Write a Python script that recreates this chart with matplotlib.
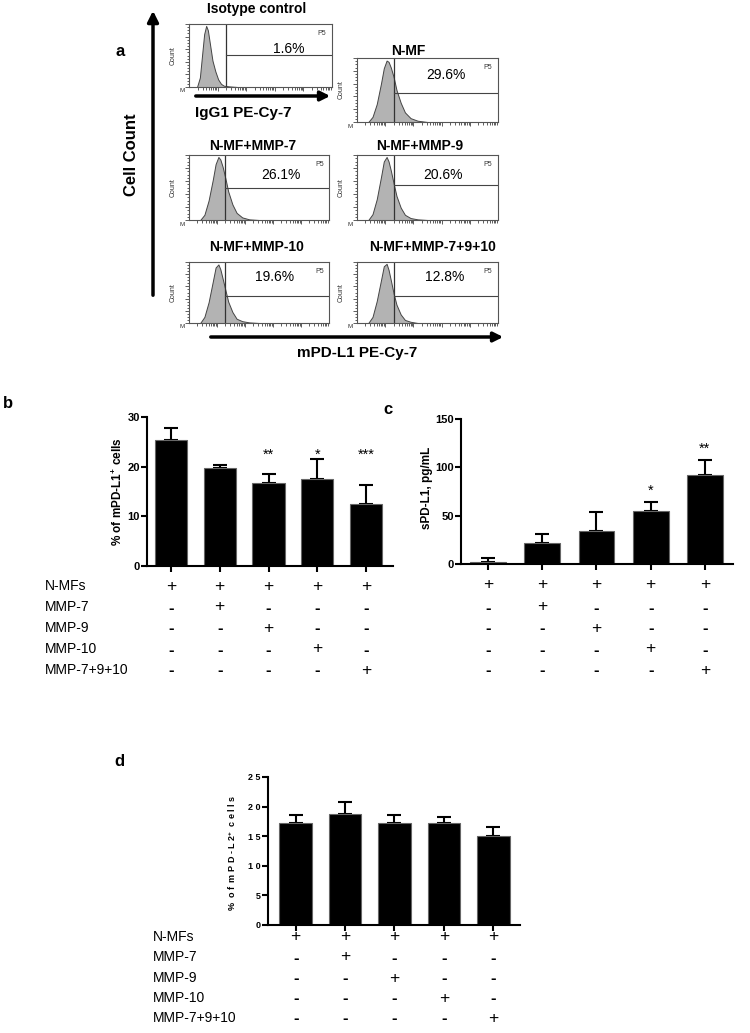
import numpy as np
import matplotlib.pyplot as plt
from matplotlib.transforms import blended_transform_factory

plt.rcParams['font.family'] = ['Liberation Sans', 'DejaVu Sans']
plt.rcParams['mathtext.fontset'] = 'custom'
plt.rcParams['mathtext.rm'] = 'Liberation Sans'
plt.rcParams['mathtext.bf'] = 'Liberation Sans:bold'
plt.rcParams['mathtext.default'] = 'regular'

W, H = 750, 1033

# --- panel a: flow cytometry histograms (log10 fluorescence vs relative count) ---
hist_titles = ["Isotype control", "N-MF", "N-MF+MMP-7", "N-MF+MMP-9",
               "N-MF+MMP-10", "N-MF+MMP-7+9+10"]
hist_pct = [1.6, 29.6, 26.1, 20.6, 19.6, 12.8]
gate_x = 1.3
gate_y = [0.51, 0.45, 0.49, 0.54, 0.44, 0.45]

iso_x = [0.28, 0.38, 0.46, 0.53, 0.60, 0.66, 0.74, 0.82, 0.92, 1.02, 1.12, 1.22, 1.40, 1.70]
iso_y = [0.00, 0.15, 0.52, 0.84, 0.97, 0.90, 0.66, 0.42, 0.25, 0.12, 0.05, 0.02, 0.01, 0.00]

mf_x = [0.40, 0.55, 0.70, 0.85, 0.95, 1.05, 1.12, 1.20, 1.30, 1.40, 1.55, 1.70, 1.90, 2.15, 2.50]
nmf_y = [0.00, 0.08, 0.28, 0.60, 0.84, 0.96, 0.94, 0.85, 0.70, 0.50, 0.30, 0.15, 0.06, 0.02, 0.00]
mmp7_y = [0.00, 0.08, 0.30, 0.62, 0.86, 0.97, 0.93, 0.82, 0.64, 0.44, 0.24, 0.11, 0.04, 0.01, 0.00]
mmp9_y = [0.00, 0.09, 0.32, 0.66, 0.90, 0.97, 0.90, 0.76, 0.56, 0.37, 0.19, 0.08, 0.03, 0.01, 0.00]
mmp10_y = [0.00, 0.10, 0.34, 0.68, 0.91, 0.96, 0.88, 0.73, 0.54, 0.35, 0.18, 0.07, 0.03, 0.01, 0.00]
mmpall_y = [0.00, 0.10, 0.36, 0.70, 0.93, 0.97, 0.87, 0.70, 0.48, 0.30, 0.14, 0.05, 0.02, 0.00, 0.00]
hist_x = [iso_x, mf_x, mf_x, mf_x, mf_x, mf_x]
hist_y = [iso_y, nmf_y, mmp7_y, mmp9_y, mmp10_y, mmpall_y]

# --- panels b-d: bar charts ---
row_labels = ["N-MFs", "MMP-7", "MMP-9", "MMP-10", "MMP-7+9+10"]
design = [[1, 1, 1, 1, 1],
          [0, 1, 0, 0, 0],
          [0, 0, 1, 0, 0],
          [0, 0, 0, 1, 0],
          [0, 0, 0, 0, 1]]

b_means = [25.4, 19.7, 16.7, 17.5, 12.4]
b_err = [2.4, 0.6, 1.8, 4.1, 3.9]
b_stars = ["", "", "**", "*", "***"]

c_means = [2.4, 21.8, 33.9, 55.0, 92.3]
c_err = [3.5, 9.2, 20.4, 9.6, 15.5]
c_stars = ["", "", "", "*", "**"]

d_means = [17.2, 18.7, 17.3, 17.2, 15.0]
d_err = [1.4, 2.0, 1.2, 1.1, 1.5]

fig = plt.figure(figsize=(W / 100, H / 100), dpi=100)

# overlay in pixel coordinates for arrows / free text
ov = fig.add_axes([0, 0, 1, 1])
ov.set_xlim(0, W)
ov.set_ylim(H, 0)
ov.axis('off')


def px_axes(x0, y0, x1, y1):
    return fig.add_axes([x0 / W, 1 - y1 / H, (x1 - x0) / W, (y1 - y0) / H])


# ---------------- panel a ----------------
box_px = [(189, 24, 332, 87), (357, 58, 498, 122),
          (189, 155, 329, 220), (357, 155, 498, 220),
          (189, 262, 329, 323), (357, 262, 498, 323)]
title_px = [(257, 9), (408, 51), (253, 146), (420, 146), (257, 247), (433, 247)]
pct_pos = [(3.5, 0.60), (3.15, 0.74), (3.3, 0.70), (3.05, 0.70), (3.05, 0.75), (3.1, 0.75)]

minor_ticks = [np.log10(k) + d for d in range(5) for k in range(2, 10)]

for i in range(6):
    x0, y0, x1, y1 = box_px[i]
    ax = px_axes(x0, y0, x1, y1)
    ax.fill_between(hist_x[i], hist_y[i], color='#b3b3b3', edgecolor='#444444', linewidth=0.7)
    ax.set_xlim(0, 5)
    ax.set_ylim(0, 1)
    ax.axvline(gate_x, color='#333333', lw=0.9)
    ax.plot([gate_x, 5], [gate_y[i], gate_y[i]], color='#444444', lw=0.8)
    ax.text(pct_pos[i][0], pct_pos[i][1], f"{hist_pct[i]}%", ha='center', va='center', fontsize=10)
    ax.text(4.65, 0.85, "P5", ha='center', va='center', fontsize=5, color='#333333')
    for s in ax.spines.values():
        s.set_color('#555555')
        s.set_linewidth(0.8)
    ax.set_xticks([1, 2, 3, 4])
    ax.set_xticks(minor_ticks, minor=True)
    ax.set_yticks(np.linspace(0, 1, 6))
    ax.set_yticks(np.linspace(0, 1, 21), minor=True)
    ax.tick_params(which='both', labelbottom=False, labelleft=False, direction='out',
                   color='#444444', width=0.6)
    ax.tick_params(which='major', length=3)
    ax.tick_params(which='minor', length=1.8)
    ov.text(x0 - 16, (y0 + y1) / 2, "Count", rotation=90, ha='center', va='center',
            fontsize=5, color='#333333')
    ov.text(x0 - 7, y1 + 4, "M", ha='center', va='center', fontsize=4.5, color='#333333')
    tx, ty = title_px[i]
    ov.text(tx, ty, hist_titles[i], ha='center', va='center', fontsize=10, fontweight='bold')

ov.annotate('', xy=(153, 8), xytext=(153, 298),
            arrowprops=dict(arrowstyle='-|>', lw=2.5, color='black', mutation_scale=16))
ov.text(131, 155, "Cell Count", rotation=90, ha='center', va='center', fontsize=12, fontweight='bold')
ov.annotate('', xy=(333, 96), xytext=(193, 96),
            arrowprops=dict(arrowstyle='-|>', lw=2.5, color='black', mutation_scale=14))
ov.text(243, 113, "IgG1 PE-Cy-7", ha='center', va='center', fontsize=11, fontweight='bold')
ov.annotate('', xy=(506, 337), xytext=(208, 337),
            arrowprops=dict(arrowstyle='-|>', lw=2.5, color='black', mutation_scale=14))
ov.text(357, 353, "mPD-L1 PE-Cy-7", ha='center', va='center', fontsize=11, fontweight='bold')
ov.text(120, 52, "a", ha='center', va='center', fontsize=12, fontweight='bold')


# ---------------- bar panels ----------------
def bar_panel(box, xlim, ylim, yticks, ytlabels, means, err, spine_w, tfs):
    ax = px_axes(*box)
    pos = np.arange(len(means))
    ax.bar(pos, means, width=0.66, color='black', edgecolor='#666666', linewidth=0.8, zorder=2)
    ax.errorbar(pos, means, yerr=[np.zeros(len(err)), err], fmt='none', ecolor='black',
                elinewidth=1.5, capsize=5, capthick=1.5, zorder=1)
    ax.set_xlim(*xlim)
    ax.set_ylim(*ylim)
    for s in ['top', 'right']:
        ax.spines[s].set_visible(False)
    for s in ['left', 'bottom']:
        ax.spines[s].set_linewidth(spine_w)
    ax.spines['left'].set_bounds(*ylim)
    ax.set_xticks(pos)
    ax.set_xticklabels([])
    ax.set_yticks(yticks)
    ax.set_yticklabels(ytlabels, fontsize=tfs, fontweight='bold')
    ax.tick_params(width=spine_w, length=4, pad=1.2)
    ax.patch.set_alpha(0)
    return ax


def design_table(ax, rows_y, label_x=None):
    tr = blended_transform_factory(ax.transData, ov.transData)
    for r, y in enumerate(rows_y):
        if label_x is not None:
            ov.text(label_x, y, row_labels[r], ha='left', va='center', fontsize=10)
        for c in range(5):
            if design[r][c]:
                ax.text(c, y, "+", transform=tr, ha='center', va='center',
                        fontsize=12.5, clip_on=False)
            else:
                ax.text(c, y + 1, "-", transform=tr, ha='center', va='center',
                        fontsize=12, fontweight='bold', clip_on=False)


# b
axb = bar_panel((147, 417, 393, 566), (-0.49, 4.55), (0, 30), [0, 10, 20, 30],
                ["0", "10", "20", "30"], b_means, b_err, 1.5, 8)
for i, s in enumerate(b_stars):
    if s:
        axb.text(i, 22.4, s, ha='center', va='center', fontsize=10.5)
ov.text(118, 492, "% of mPD-L1$^{+}$ cells", rotation=90, ha='center', va='center',
        fontsize=8.5, fontweight='bold')
design_table(axb, [586, 607, 628, 649, 670], label_x=45)
ov.text(8, 403, "b", ha='center', va='center', fontsize=12, fontweight='bold')

# c
axc = bar_panel((461, 419, 733, 564), (-0.50, 4.52), (0, 150), [0, 50, 100, 150],
                ["0", "50", "100", "150"], c_means, c_err, 1.5, 8)
for i, s in enumerate(c_stars):
    if s:
        axc.text(i, c_means[i] + c_err[i] + 4, s, ha='center', va='bottom', fontsize=10.5)
ov.text(427, 488, "sPD-L1, pg/mL", rotation=90, ha='center', va='center',
        fontsize=8.5, fontweight='bold')
design_table(axc, [585, 607, 628, 649, 670])
ov.text(388, 409, "c", ha='center', va='center', fontsize=12, fontweight='bold')

# d
axd = bar_panel((268, 777, 520, 925), (-0.56, 4.54), (0, 25), [0, 5, 10, 15, 20, 25],
                ["0", "5", "1 0", "1 5", "2 0", "2 5"], d_means, d_err, 1.5, 6.5)
ov.text(232, 853, "%  o f  m P D - L 2$^{+}$  c e l l s", rotation=90, ha='center', va='center',
        fontsize=6.5, fontweight='bold')
design_table(axd, [937, 957, 978, 998, 1018], label_x=153)
ov.text(119, 761, "d", ha='center', va='center', fontsize=12, fontweight='bold')

fig.savefig("out.png", dpi=100)
